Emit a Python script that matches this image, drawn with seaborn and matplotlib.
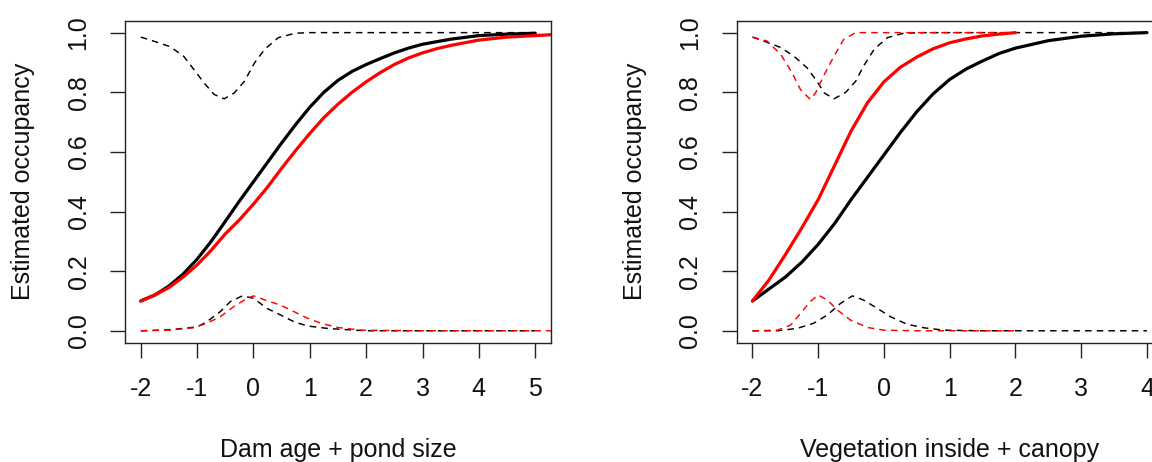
import numpy as np
import pandas as pd
import matplotlib
matplotlib.use("Agg")
import matplotlib.pyplot as plt
import seaborn as sns

# ---- Panel 1: dam age + pond size -------------------------------------
dam_x = [-2.0, -1.75, -1.5, -1.25, -1.0, -0.75, -0.5, -0.25, 0.0, 0.25, 0.5, 0.75,
         1.0, 1.25, 1.5, 1.75, 2.0, 2.25, 2.5, 2.75, 3.0, 3.5, 4.0, 4.5, 5.0]
dam_black = [0.10, 0.12, 0.15, 0.19, 0.24, 0.30, 0.367, 0.435, 0.50, 0.565, 0.63, 0.692,
             0.75, 0.80, 0.84, 0.87, 0.893, 0.913, 0.932, 0.948, 0.961, 0.978,
             0.99, 0.995, 0.998]
dam_red_x = [-2.0, -1.75, -1.5, -1.25, -1.0, -0.75, -0.5, -0.25, 0.0, 0.25, 0.5, 0.75,
             1.0, 1.25, 1.5, 1.75, 2.0, 2.25, 2.5, 2.75, 3.0, 3.25, 3.5, 4.0, 4.5,
             5.0, 5.28]
dam_red = [0.10, 0.12, 0.145, 0.18, 0.221, 0.27, 0.325, 0.372, 0.425, 0.482, 0.545,
           0.605, 0.662, 0.715, 0.76, 0.80, 0.835, 0.866, 0.893, 0.915, 0.932, 0.946,
           0.957, 0.975, 0.985, 0.99, 0.993]

dam_black_hi_x = [-2.0, -1.78, -1.48, -1.24, -1.06, -0.88, -0.70, -0.52, -0.34, -0.16,
                  0.02, 0.20, 0.44, 0.74, 1.0, 2.0, 3.0, 4.0, 5.0]
dam_black_hi = [0.985, 0.972, 0.953, 0.921, 0.877, 0.832, 0.793, 0.778, 0.798, 0.837,
                0.899, 0.944, 0.983, 0.998, 1.0, 1.0, 1.0, 1.0, 1.0]
dam_black_lo_x = [-2.0, -1.5, -1.0, -0.83, -0.59, -0.41, -0.2, 0.0, 0.24, 0.48, 0.72,
                  0.96, 1.31, 1.79, 2.0, 3.0, 4.0, 5.0]
dam_black_lo = [0.0, 0.003, 0.013, 0.03, 0.064, 0.098, 0.117, 0.109, 0.075, 0.053, 0.03,
                0.016, 0.008, 0.002, 0.0, 0.0, 0.0, 0.0]
dam_red_lo_x = [-2.0, -1.5, -1.07, -0.83, -0.59, -0.35, -0.11, 0.0, 0.24, 0.48, 0.72,
                0.96, 1.2, 1.5, 1.91, 3.0, 4.0, 5.28]
dam_red_lo = [0.0, 0.002, 0.01, 0.025, 0.047, 0.081, 0.109, 0.117, 0.101, 0.086, 0.064,
              0.042, 0.025, 0.011, 0.002, 0.0, 0.0, 0.0]

# ---- Panel 2: vegetation inside + canopy ------------------------------
veg_red_x = [-2.0, -1.75, -1.5, -1.25, -1.0, -0.75, -0.5, -0.25, 0.0, 0.25, 0.5, 0.75,
             1.0, 1.25, 1.5, 1.75, 2.0]
veg_red = [0.10, 0.17, 0.255, 0.345, 0.44, 0.555, 0.67, 0.765, 0.835, 0.884, 0.918,
           0.946, 0.966, 0.979, 0.989, 0.995, 1.0]
veg_black_x = [-2.0, -1.75, -1.5, -1.25, -1.0, -0.75, -0.5, -0.25, 0.0, 0.25, 0.5,
               0.75, 1.0, 1.25, 1.5, 1.75, 2.0, 2.5, 3.0, 3.5, 4.0]
veg_black = [0.10, 0.14, 0.18, 0.23, 0.29, 0.36, 0.44, 0.515, 0.59, 0.665, 0.735,
             0.795, 0.843, 0.878, 0.905, 0.93, 0.948, 0.973, 0.988, 0.996, 1.0]

veg_red_hi_x = [-2.0, -1.78, -1.57, -1.40, -1.27, -1.12, -1.04, -0.92, -0.76, -0.61,
                -0.43, 0.0, 1.0, 2.0]
veg_red_hi = [0.985, 0.972, 0.927, 0.866, 0.809, 0.776, 0.798, 0.854, 0.921, 0.978,
              1.0, 1.0, 1.0, 1.0]
veg_black_hi_x = [-2.0, -1.83, -1.57, -1.37, -1.17, -1.02, -0.91, -0.76, -0.58, -0.43,
                  -0.31, -0.15, 0.05, 0.30, 0.6, 1.0, 2.0, 3.0, 4.0]
veg_black_hi = [0.985, 0.972, 0.95, 0.921, 0.882, 0.837, 0.798, 0.778, 0.80, 0.837,
                0.888, 0.944, 0.983, 0.998, 1.0, 1.0, 1.0, 1.0, 1.0]
veg_red_lo_x = [-2.0, -1.62, -1.42, -1.27, -1.12, -1.0, -0.86, -0.71, -0.51, -0.25,
                0.0, 0.5, 1.0, 2.0]
veg_red_lo = [0.0, 0.002, 0.019, 0.058, 0.098, 0.12, 0.103, 0.07, 0.036, 0.011,
              0.002, 0.0, 0.0, 0.0]
veg_black_lo_x = [-2.0, -1.62, -1.32, -1.07, -0.86, -0.66, -0.48, -0.31, -0.10, 0.1,
                  0.35, 0.61, 0.91, 1.5, 2.0, 3.0, 4.0]
veg_black_lo = [0.0, 0.0, 0.008, 0.025, 0.053, 0.092, 0.117, 0.103, 0.075, 0.047,
                0.022, 0.01, 0.002, 0.0, 0.0, 0.0, 0.0]

x_labels = ["Dam age + pond size", "Vegetation inside + canopy"]
y_label = "Estimated occupancy"
y_ticks = [0.0, 0.2, 0.4, 0.6, 0.8, 1.0]

sns.set_style("white")
plt.rcParams["font.family"] = ["Liberation Sans", "DejaVu Sans"]
FS = 18

fig = plt.figure(figsize=(11.52, 4.62), dpi=100)
ax1 = fig.add_axes([125 / 1152, 1 - 342.7 / 462, 426 / 1152, 322 / 462])
ax2 = fig.add_axes([736.7 / 1152, 1 - 342.7 / 462, 426 / 1152, 322 / 462])

solid_kw = dict(linewidth=2.3, estimator=None, sort=False, legend=False)
dash_kw = dict(linewidth=1.05, estimator=None, sort=False, legend=False)
DASH = (4.5, 3.5)


def draw(ax, x, y, color, dashed):
    df = pd.DataFrame({"x": x, "y": y})
    if dashed:
        sns.lineplot(data=df, x="x", y="y", color=color, ax=ax, **dash_kw)
        ax.lines[-1].set_dashes(DASH)
    else:
        sns.lineplot(data=df, x="x", y="y", color=color, ax=ax, **solid_kw)


# panel 1: confidence bounds first, estimates on top
draw(ax1, dam_black_hi_x, dam_black_hi, "black", True)
draw(ax1, dam_black_lo_x, dam_black_lo, "black", True)
draw(ax1, dam_red_lo_x, dam_red_lo, "red", True)
draw(ax1, dam_x, dam_black, "black", False)
draw(ax1, dam_red_x, dam_red, "red", False)

# panel 2
draw(ax2, veg_black_hi_x, veg_black_hi, "black", True)
draw(ax2, veg_red_hi_x, veg_red_hi, "red", True)
draw(ax2, veg_black_lo_x, veg_black_lo, "black", True)
draw(ax2, veg_red_lo_x, veg_red_lo, "red", True)
draw(ax2, veg_black_x, veg_black, "black", False)
draw(ax2, veg_red_x, veg_red, "red", False)

for ax, xlab, xr in [(ax1, x_labels[0], (-2, 5)), (ax2, x_labels[1], (-2, 4))]:
    pad = 0.04 * (xr[1] - xr[0])
    ax.set_xlim(xr[0] - pad, xr[1] + pad)
    ax.set_ylim(-0.04, 1.04)
    ax.set_xticks(np.arange(xr[0], xr[1] + 1))
    ax.set_xticklabels([str(v) for v in range(xr[0], xr[1] + 1)])
    ax.set_yticks(y_ticks)
    ax.set_yticklabels([f"{v:.1f}" for v in y_ticks])
    for s in ax.spines.values():
        s.set_visible(True)
        s.set_color("#222222")
        s.set_linewidth(1.0)
    ax.tick_params(axis="both", direction="out", length=10.8, width=1.0,
                   color="#222222", labelsize=FS, pad=14, labelcolor="#111111",
                   bottom=True, left=True)
    plt.setp(ax.get_yticklabels(), rotation=90, va="center")
    ax.set_xlabel(xlab, fontsize=FS, color="#111111")
    ax.set_ylabel(y_label, fontsize=FS, color="#111111")
    ax.xaxis.set_label_coords(0.5, -(450 - 342.7) / 322)
    ax.xaxis.label.set_va("center")
    ax.yaxis.set_label_coords(-(125 - 23) / 426, 0.5)
    ax.yaxis.label.set_va("center")
    ax.grid(False)

fig.savefig("out.png", dpi=100)
